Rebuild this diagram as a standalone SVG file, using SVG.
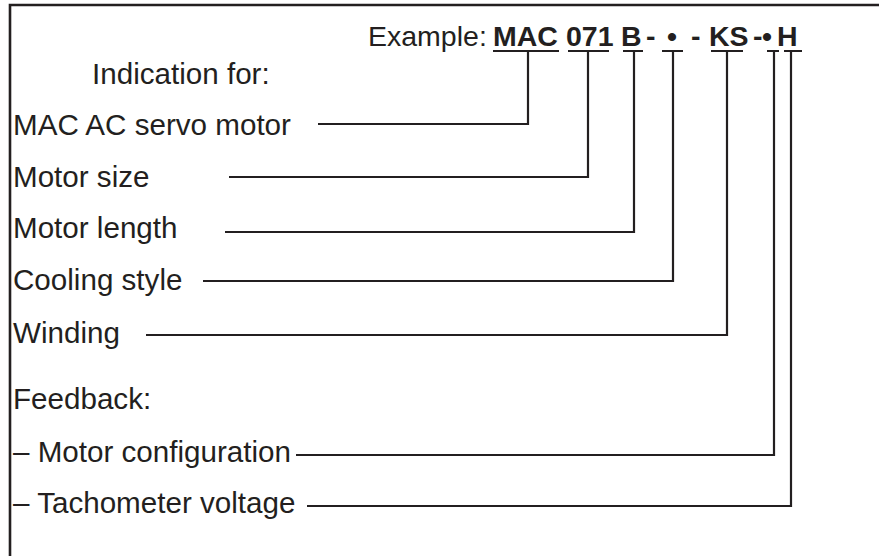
<svg xmlns="http://www.w3.org/2000/svg" width="879" height="556" viewBox="0 0 879 556">
<style>
.t{font-family:"Liberation Sans",Arial,sans-serif;font-size:29.6px;fill:#231f20}
.h{font-size:28.5px}
.b{font-weight:bold;font-size:28.5px}
.ln{stroke:#231f20;stroke-width:2.2;fill:none}
.fr{stroke:#231f20;stroke-width:2.6;fill:none}
</style>
<rect width="879" height="556" fill="#ffffff"/>
<g id="frame"><path class="fr" d="M10,556 V5 H879"/></g>
<g id="header">
<text class="t h" x="368" y="46">Example:</text>
<text class="t b" x="493" y="46">MAC</text>
<text class="t b" x="566" y="46">071</text>
<text class="t b" x="621" y="46">B</text>
<text class="t b" x="646" y="46">-</text>
<text class="t b" x="667" y="46">•</text>
<text class="t b" x="691" y="46">-</text>
<text class="t b" x="709" y="46">KS</text>
<text class="t b" x="753" y="46">-</text>
<text class="t b" x="762" y="46">•</text>
<text class="t b" x="777" y="46">H</text>
</g>
<g id="title"><text class="t" x="92" y="84">Indication for:</text></g>
<g id="n-mac"><text class="t" x="13" y="135">MAC AC servo motor</text></g>
<g id="n-size"><text class="t" x="13" y="187">Motor size</text></g>
<g id="n-length"><text class="t" x="13" y="238">Motor length</text></g>
<g id="n-cooling"><text class="t" x="13" y="290">Cooling style</text></g>
<g id="n-winding"><text class="t" x="13" y="343">Winding</text></g>
<g id="n-feedback"><text class="t" x="13" y="409">Feedback:</text></g>
<g id="n-config"><text class="t" x="13" y="462">– Motor configuration</text></g>
<g id="n-tacho"><text class="t" x="13" y="513">– Tachometer voltage</text></g>
<g id="connectors">
<path class="ln" d="M493,51 H559 M568,51 H609 M623,51 H643 M662,51 H683 M711,51 H743 M767,51 H779 M784,51 H802"/>
<path class="ln" d="M528,51 V124 H318"/>
<path class="ln" d="M588,51 V177 H229"/>
<path class="ln" d="M634,51 V232 H225"/>
<path class="ln" d="M673,51 V281 H203"/>
<path class="ln" d="M727,51 V335 H146"/>
<path class="ln" d="M774,51 V455 H296"/>
<path class="ln" d="M791,51 V506 H307"/>
</g>
</svg>
